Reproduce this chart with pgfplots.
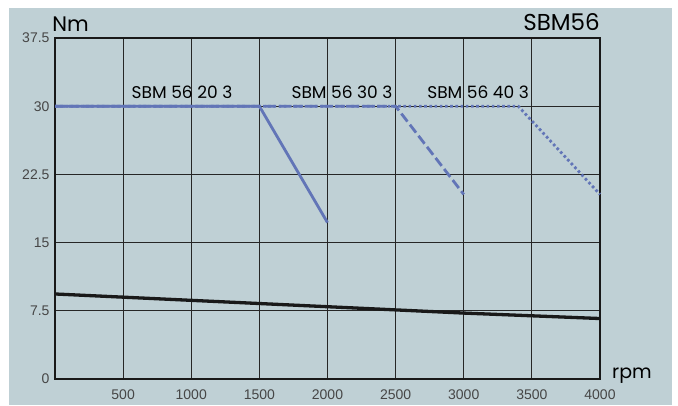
\documentclass[border=0pt]{standalone}
\usepackage{pgfplots}
\pgfplotsset{compat=1.18}
\usepackage{fontspec}
\setmainfont{Poppins}
\newfontfamily\tickfont{Liberation Sans}
\definecolor{bgc}{RGB}{191,208,213}
\definecolor{curve}{RGB}{98,117,183}
\definecolor{tickc}{RGB}{70,70,70}
\begin{document}
\begin{tikzpicture}[x=1pt,y=1pt]
\path[use as bounding box] (0,0) rectangle (678,405);
\fill[white] (0,0) rectangle (678,405);
\fill[bgc] (9,0) rectangle (672,397);
\begin{axis}[
  scale only axis, width=545pt, height=341pt,
  at={(55pt,26pt)}, anchor=south west,
  xmin=0, xmax=4000, ymin=0, ymax=37.5,
  xtick={0,500,1000,1500,2000,2500,3000,3500,4000},
  xticklabels={,500,1000,1500,2000,2500,3000,3500,4000},
  ytick={0,7.5,15,22.5,30,37.5},
  yticklabels={0,7.5,15,22.5,30,37.5},
  grid=major, major grid style={black!85, line width=0.8pt},
  axis line style={black!90, line width=1.8pt},
  tick style={draw=none},
  ticklabel style={font=\tickfont\fontsize{14}{15}\selectfont, text=tickc},
  xticklabel style={yshift=-7pt},
  yticklabel style={xshift=-2pt},
  /pgf/number format/assume math mode=true,
  axis background/.style={fill=bgc},
  clip=false,
]
\addplot[black!90, line width=3.3pt] coordinates {(0,9.35) (500,9.0) (1000,8.65) (1500,8.3) (2000,7.95) (2500,7.6) (3000,7.25) (3500,6.95) (4000,6.65)};
\addplot[curve, line width=2.8pt, dash pattern=on 2.6pt off 2.6pt] coordinates {(0,30) (3400,30) (4000,20.3)};
\addplot[curve, line width=2.8pt, dash pattern=on 10pt off 4pt] coordinates {(0,30) (2500,30) (3000,20.3)};
\addplot[curve, line width=2.8pt] coordinates {(0,30) (1500,30) (2000,17.2)};
\node[font=\fontsize{17}{18}\selectfont, anchor=base, inner sep=0pt] at (axis cs:932,30.8) {SBM 56 20 3};
\node[font=\fontsize{17}{18}\selectfont, anchor=base, inner sep=0pt] at (axis cs:2106,30.8) {SBM 56 30 3};
\node[font=\fontsize{17}{18}\selectfont, anchor=base, inner sep=0pt] at (axis cs:3105,30.8) {SBM 56 40 3};
\node[font=\fontsize{21}{22}\selectfont, anchor=base west, inner sep=0pt] at (axis cs:-20,38.25) {Nm};
\node[font=\fontsize{23}{24}\selectfont, anchor=base east, inner sep=0pt] at (axis cs:4000,38.35) {SBM56};
\node[font=\fontsize{19}{20}\selectfont, anchor=base west, inner sep=0pt] at (axis cs:4088,0.1) {rpm};
\end{axis}
\end{tikzpicture}
\end{document}
